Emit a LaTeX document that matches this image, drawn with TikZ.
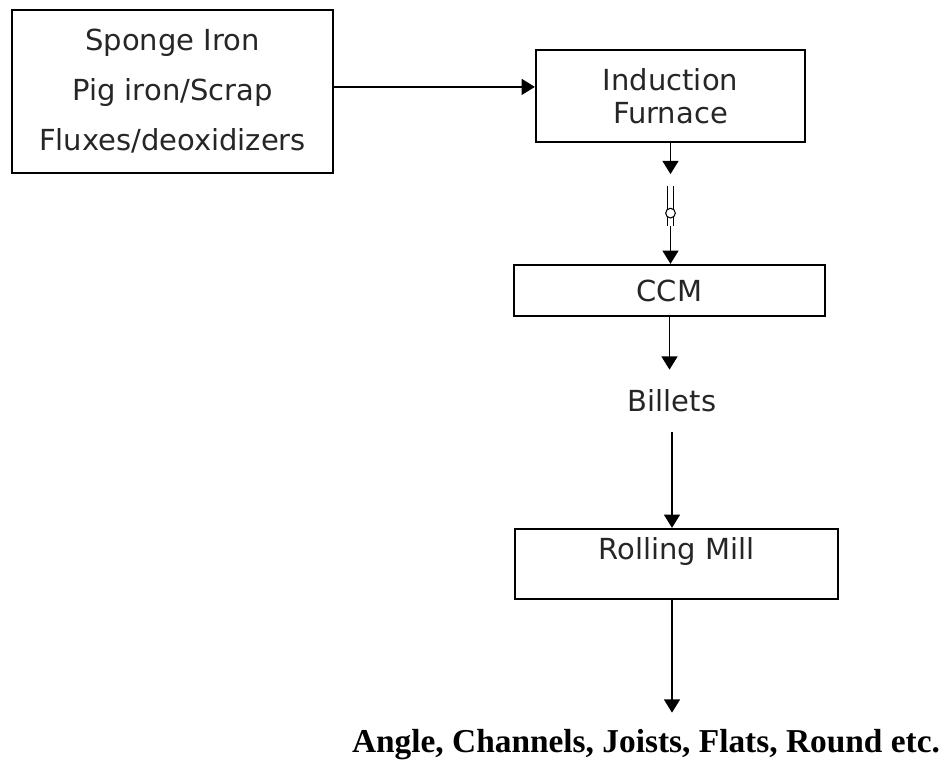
\documentclass[tikz,border=0pt]{standalone}
\usepackage{fontspec}
\setmainfont{DejaVu Sans}
\newfontfamily\prodfont{Liberation Serif}
\usetikzlibrary{arrows.meta, positioning, calc}

\begin{document}
\begin{tikzpicture}[
  x=0.02cm, y=-0.02cm,
  >={Triangle[length=7.5pt, width=9pt]},
  % Node styles
  unit/.style={draw, line width=1.3pt, inner sep=0pt, align=center, text=black!85},
  stage/.style={font=\fontsize{16.5}{18.8}\selectfont, text=black!85},
  product/.style={font=\prodfont\bfseries\fontsize{19}{22}\selectfont, inner sep=0pt},
  % Edge styles
  flow/.style={->, line width=1pt},
  pour/.style={line width=0.8pt, double, double distance=2.5pt}
]

% canvas
\useasboundingbox (0,0) rectangle (948,766);

% ------------------------------------------------------------
% Raw materials and furnace
% ------------------------------------------------------------
\node[unit, minimum width=6.42cm, minimum height=3.26cm,
      font=\fontsize{16.5}{28.45}\selectfont] (charge) at (172.5,91.5)
      {Sponge Iron\\Pig iron/Scrap\\Fluxes/deoxidizers};
\node[unit, stage, minimum width=5.38cm, minimum height=1.84cm] (furnace) at (670.5,96)
      {Induction\\Furnace};

\draw[flow] ([yshift=2.6pt]charge.east) -- ([yshift=2.6pt]charge.east -| furnace.west);

% ------------------------------------------------------------
% Casting
% ------------------------------------------------------------
\node[unit, stage, minimum width=6.22cm, minimum height=1.02cm] (ccm) at (669.5,290.5) {CCM};

% ladle transfer between furnace and CCM
\coordinate (ladleA) at ($(furnace.south)+(0,43)$);
\coordinate (ladleB) at ($(furnace.south)+(0,83)$);
\draw[flow] (furnace.south) -- ($(furnace.south)+(0,31)$);
\draw[pour] (ladleA) -- (ladleB);
\node[circle, draw, fill=white, line width=0.6pt, minimum size=5.5pt, inner sep=0pt] (ladleC)
      at ($(furnace.south)+(0,70)$) {};
\draw[flow] (ladleB) -- (ladleB |- ccm.north);

\node[stage, minimum height=1.24cm, inner sep=0pt] (billets) at (672,401) {Billets};
\draw[flow] (ccm.south) -- (ccm.south |- billets.north);

% ------------------------------------------------------------
% Rolling
% ------------------------------------------------------------
\node[unit, minimum width=6.46cm, minimum height=1.4cm] (mill) at (676.5,564) {};
\node[stage] (milltext) at ($(mill.north)+(0,24)$) {Rolling Mill};
\draw[flow] (billets.south) -- (billets.south |- mill.north);

\node[product, minimum height=1.28cm] (goods) at (646,745)
      {Angle, Channels, Joists, Flats, Round etc.};
\draw[flow] (mill.south -| billets.south) -- (billets.south |- goods.north);

\end{tikzpicture}
\end{document}
